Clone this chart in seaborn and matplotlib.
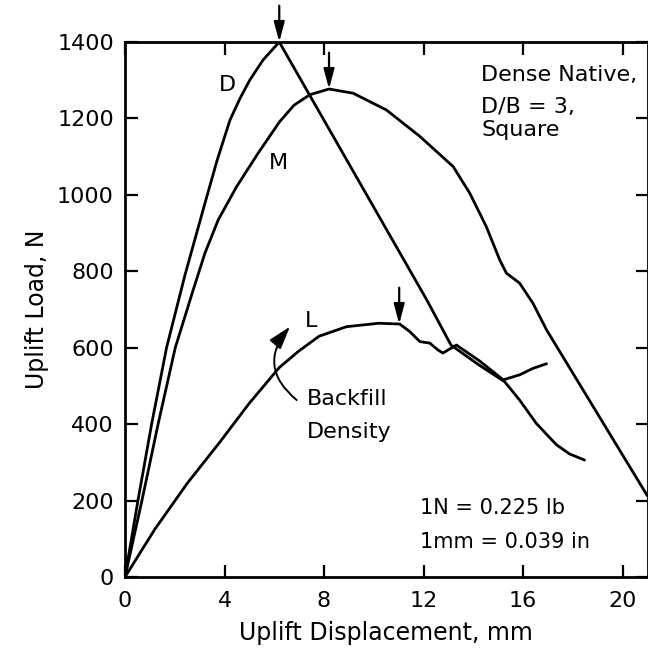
import matplotlib
matplotlib.use("Agg")
import matplotlib.pyplot as plt
import seaborn as sns
import pandas as pd

# ---- data ----
d_x = [0, 0.52, 1.07, 1.67, 2.41, 3.2, 3.7, 4.22, 4.62, 5.02, 5.55, 6.2,
       12.13, 13.1, 14.2, 15.26, 15.86, 16.53, 17.34, 17.87, 18.47]
d_y = [0, 200, 400, 600, 790, 975, 1090, 1196, 1252, 1301, 1353, 1400,
       725, 607, 556, 511, 463, 402, 346, 322, 306]

m_x = [0, 0.68, 1.33, 2.02, 2.74, 3.21, 3.75, 4.49, 5.35, 6.22, 6.8, 7.43,
       8.2, 9.17, 10.51, 11.85, 13.19, 13.86, 14.52, 15.06, 15.33, 15.86,
       16.4, 16.94, 21.0]
m_y = [0, 200, 400, 600, 751, 847, 935, 1022, 1109, 1192, 1235, 1262,
       1277, 1266, 1222, 1153, 1074, 1004, 917, 830, 795, 769,
       716, 647, 212]

l_x = [0, 1.2, 2.5, 3.8, 5.0, 6.2, 7.0, 7.8, 8.9, 10.2, 11.04, 11.45, 11.85,
       12.25, 12.58, 12.78, 12.98, 13.32, 14.26, 15.2, 15.86, 16.4, 16.94]
l_y = [0, 125, 245, 352, 455, 548, 592, 630, 655, 664, 662, 642, 616,
       612, 594, 586, 594, 607, 565, 516, 529, 546, 558]

peak_x = [6.2, 8.2, 11.02]
peak_y = [1400, 1277, 662]
curve_labels = ["D", "M", "L"]

x_ticks = [0, 4, 8, 12, 16, 20]
y_ticks = [0, 200, 400, 600, 800, 1000, 1200, 1400]

sns.set_style("ticks")
plt.rcParams["font.family"] = ["DejaVu Sans"]
plt.rcParams["text.color"] = "black"
plt.rcParams["axes.labelcolor"] = "black"
plt.rcParams["xtick.color"] = "black"
plt.rcParams["ytick.color"] = "black"

fig = plt.figure(figsize=(6.48, 6.55), dpi=100)
ax = fig.add_axes([125 / 648, 1 - 577 / 655, (647.5 - 125) / 648, (577 - 42) / 655])

for xs, ys in [(d_x, d_y), (m_x, m_y), (l_x, l_y)]:
    df = pd.DataFrame({"x": xs, "y": ys})
    sns.lineplot(data=df, x="x", y="y", sort=False, estimator=None,
                 color="black", lw=2.0, ax=ax)

ax.set_xlim(0, 21)
ax.set_ylim(0, 1400)
ax.set_xticks(x_ticks)
ax.set_yticks(y_ticks)
ax.tick_params(direction="in", length=9, width=1.6, top=True, right=True,
               labelsize=16, colors="black")
ax.tick_params(axis="x", pad=10)
ax.tick_params(axis="y", pad=8)
for s in ax.spines.values():
    s.set_linewidth(2.0)
    s.set_color("black")
    s.set_visible(True)

ax.set_xlabel("Uplift Displacement, mm", fontsize=17, labelpad=7, color="black")
ax.set_ylabel("Uplift Load, N", fontsize=17, labelpad=6, color="black")

# peak arrows
for px, py in zip(peak_x, peak_y):
    ax.annotate("", xy=(px, py), xytext=(px, py + 95),
                arrowprops=dict(arrowstyle="-|>,head_length=0.6,head_width=0.16",
                                mutation_scale=20, color="black", lw=1.6,
                                shrinkA=0, shrinkB=0),
                annotation_clip=False)

# curve labels
label_pos = [(4.1, 1288), (6.16, 1083), (7.49, 669)]
for t, (lx, ly) in zip(curve_labels, label_pos):
    ax.text(lx, ly, t, fontsize=16, ha="center", va="center", color="black")

# backfill density arrow
ax.annotate("", xy=(6.63, 655), xytext=(6.9, 463),
            arrowprops=dict(arrowstyle="-|>,head_length=0.7,head_width=0.22",
                            mutation_scale=20, color="black", lw=1.4,
                            shrinkA=0, shrinkB=0,
                            connectionstyle="arc3,rad=-0.5"))
ax.text(7.3, 465, "Backfill", fontsize=16, ha="left", va="center", color="black")
ax.text(7.3, 380, "Density", fontsize=16, ha="left", va="center", color="black")

# info text
ax.text(14.32, 1314, "Dense Native,", fontsize=16, ha="left", va="center", color="black")
ax.text(14.32, 1230, "D/B = 3,", fontsize=16, ha="left", va="center", color="black")
ax.text(14.32, 1171, "Square", fontsize=16, ha="left", va="center", color="black")
ax.text(11.85, 180, "1N = 0.225 lb", fontsize=15, ha="left", va="center", color="black")
ax.text(11.85, 92, "1mm = 0.039 in", fontsize=15, ha="left", va="center", color="black")

fig.savefig("out.png", dpi=100)
